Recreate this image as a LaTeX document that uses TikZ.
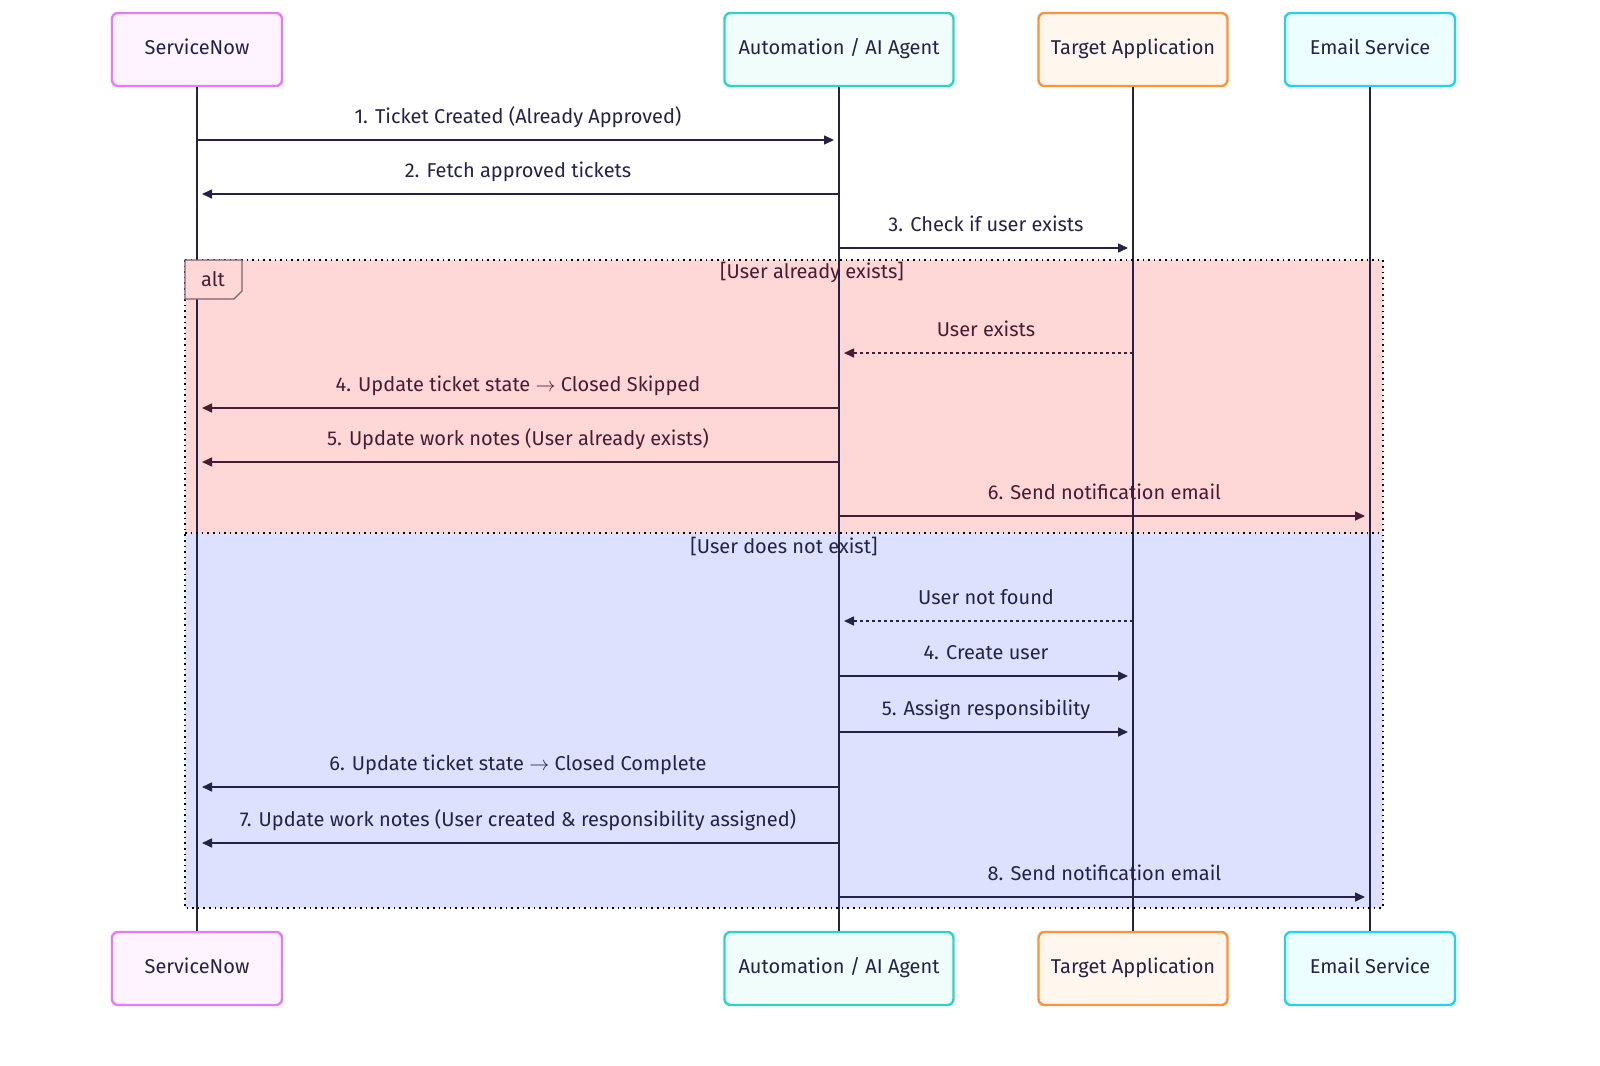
\documentclass[tikz,border=0pt]{standalone}
\usepackage{fontspec}
\setmainfont{Fira Sans}[Scale=1.0]
\usetikzlibrary{arrows.meta}
\usetikzlibrary{positioning}
\definecolor{ink}{RGB}{36, 34, 70}
\definecolor{ink-red}{RGB}{72, 28, 52}
\definecolor{sn-line}{RGB}{232, 121, 249}
\definecolor{sn-fill}{RGB}{253, 244, 255}
\definecolor{ai-line}{RGB}{45, 212, 191}
\definecolor{ai-fill}{RGB}{240, 253, 250}
\definecolor{ta-line}{RGB}{251, 146, 60}
\definecolor{ta-fill}{RGB}{255, 247, 237}
\definecolor{em-line}{RGB}{34, 211, 238}
\definecolor{em-fill}{RGB}{236, 254, 255}
\definecolor{alt-red}{RGB}{254, 215, 215}
\definecolor{alt-blue}{RGB}{221, 225, 253}
\tikzset{
  actor/.style={draw=#1-line, fill=#1-fill, line width=1.2pt, rounded corners=3pt,
    minimum height=36.5pt, inner sep=0pt, text=ink, text height=7pt, text depth=2pt},
  life/.style={ink, line width=0.9pt},
  msg/.style={line width=0.8pt, -{Triangle[length=5pt,width=4.5pt]}, shorten >=2.5pt},
  reply/.style={msg, dash pattern=on 1.5pt off 1.5pt},
  lbl/.style={text=ink, inner sep=0pt, text height=7pt, text depth=2pt}
}
\begin{document}
\begin{tikzpicture}[x=0.5pt, y=-0.5pt]
\useasboundingbox (0,0) rectangle (1600,1065);
% alt frame
\fill[alt-red] (185,260) rectangle (1383,533);
\fill[alt-blue] (185,533) rectangle (1383,908);
% actors
\foreach \nm/\x/\w/\txt in {sn/197/170/ServiceNow, ai/839/229/{Automation / AI Agent},
    ta/1133/189/Target Application, em/1370/170/Email Service}{
  \node[actor=\nm, minimum width=\w*0.5pt] (\nm) at (\x,49.5) {\txt};
  \node[actor=\nm, minimum width=\w*0.5pt] (\nm-b) at (\x,968.5) {\txt};
  \draw[life] (\nm) -- (\nm-b);
}
\draw[black, line width=0.8pt, dotted] (185,260) rectangle (1383,908);
\draw[black, line width=0.8pt, dotted] (185,533) -- (1383,533);
\draw[fill=alt-red, draw=ink-red!70, line width=0.6pt]
  (185,260) -- (242,260) -- (242,291) -- (234,299) -- (185,299) -- cycle;
\node[lbl, text=ink-red] (alt) at (213,281) {alt};
\node[lbl, text=ink-red] (g1) at (812,273) {[User already exists]};
\node[lbl] (g2) at (784,548) {[User does not exist]};
% messages before alt
\draw[msg, ink] (sn |- 0,140) -- node[lbl, above=6pt] {1. Ticket Created (Already Approved)} (ai |- 0,140);
\draw[msg, ink] (ai |- 0,194) -- node[lbl, above=6pt] {2. Fetch approved tickets} (sn |- 0,194);
\draw[msg, ink] (ai |- 0,248) -- node[lbl, above=6pt] {3. Check if user exists} (ta |- 0,248);
% user exists
\draw[reply, ink-red] (ta |- 0,353) -- node[lbl, text=ink-red, above=6pt] {User exists} (ai |- 0,353);
\draw[msg, ink-red] (ai |- 0,408) -- node[lbl, text=ink-red, above=6pt] {4. Update ticket state $\rightarrow$ Closed Skipped} (sn |- 0,408);
\draw[msg, ink-red] (ai |- 0,462) -- node[lbl, text=ink-red, above=6pt] {5. Update work notes (User already exists)} (sn |- 0,462);
\draw[msg, ink-red] (ai |- 0,516) -- node[lbl, text=ink-red, above=6pt] {6. Send notification email} (em |- 0,516);
% user does not exist
\draw[reply, ink] (ta |- 0,621) -- node[lbl, above=6pt] {User not found} (ai |- 0,621);
\draw[msg, ink] (ai |- 0,676) -- node[lbl, above=6pt] {4. Create user} (ta |- 0,676);
\draw[msg, ink] (ai |- 0,732) -- node[lbl, above=6pt] {5. Assign responsibility} (ta |- 0,732);
\draw[msg, ink] (ai |- 0,787) -- node[lbl, above=6pt] {6. Update ticket state $\rightarrow$ Closed Complete} (sn |- 0,787);
\draw[msg, ink] (ai |- 0,843) -- node[lbl, above=6pt] {7. Update work notes (User created \& responsibility assigned)} (sn |- 0,843);
\draw[msg, ink] (ai |- 0,897) -- node[lbl, above=6pt] {8. Send notification email} (em |- 0,897);
\end{tikzpicture}
\end{document}
